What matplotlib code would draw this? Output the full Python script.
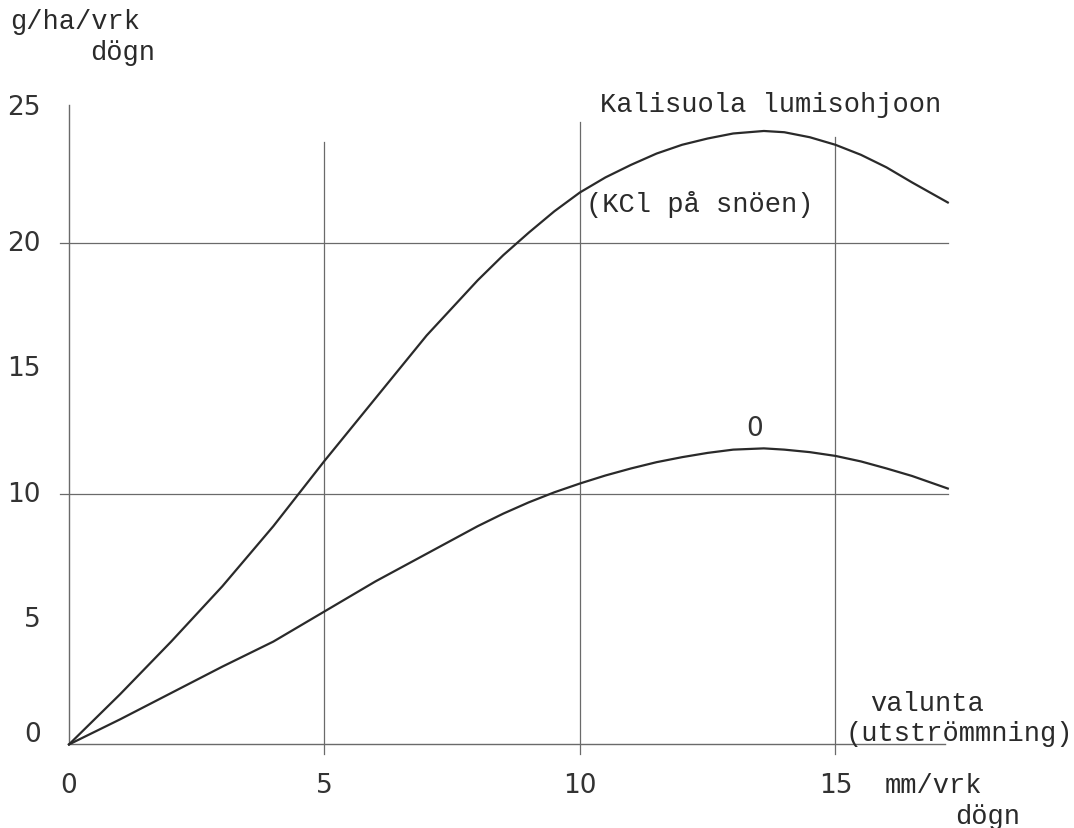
import numpy as np
import matplotlib
matplotlib.use("Agg")
import matplotlib.pyplot as plt

# runoff mm/day
x_vals = [0, 1, 2, 3, 4, 5, 6, 7, 8, 8.5, 9, 9.5, 10, 10.5, 11, 11.5, 12, 12.5,
          13, 13.6, 14, 14.5, 15, 15.5, 16, 16.5, 17.2]
# leaching g/ha/day, KCl on snow
kcl = [0, 2.0, 4.1, 6.3, 8.7, 11.3, 13.8, 16.3, 18.5, 19.5, 20.4, 21.25, 22.0, 22.6,
       23.1, 23.55, 23.9, 24.15, 24.35, 24.45, 24.4, 24.2, 23.9, 23.5, 23.0, 22.4, 21.6]
# leaching, control (0)
ctrl = [0, 1.0, 2.05, 3.1, 4.1, 5.3, 6.5, 7.6, 8.7, 9.2, 9.65, 10.05, 10.4, 10.72,
        11.0, 11.25, 11.45, 11.62, 11.75, 11.8, 11.75, 11.65, 11.5, 11.28, 11.0, 10.7, 10.2]

xticks = [0, 5, 10, 15]
yticks = [0, 5, 10, 15, 20, 25]

mono = "Liberation Mono"
ink = "#2a2a2a"
grid_c = "#6a6a6a"

fig = plt.figure(figsize=(10.74, 8.29), dpi=100)
ax = fig.add_axes([0, 0, 1, 1])
ax.set_xlim(-1.35, 19.67)
ax.set_ylim(-3.33, 29.71)
ax.axis("off")

# axes and grid
ax.plot([0, 0], [0, 25.5], color=grid_c, lw=1.0)
ax.plot([0, 17.15], [0, 0], color=grid_c, lw=1.0)
for xv, top in zip(xticks[1:], [24.0, 24.8, 24.2]):
    ax.plot([xv, xv], [-0.4, top], color=grid_c, lw=0.9)
for yv in [10, 20]:
    ax.plot([-0.18, 17.2], [yv, yv], color=grid_c, lw=0.9)

ax.plot(x_vals, kcl, color=ink, lw=1.6, solid_joinstyle="round")
ax.plot(x_vals, ctrl, color=ink, lw=1.6, solid_joinstyle="round")

# tick labels
for yv in yticks:
    ypos = yv + (0.4 if yv in (0, 25) else 0)
    ax.text(-0.55, ypos, str(yv), ha="right", va="center", fontsize=19,
            color="#333333", family="DejaVu Sans")
for xv in xticks:
    ax.text(xv, -1.6, str(xv), ha="center", va="center", fontsize=19,
            color="#333333", family="DejaVu Sans")

# labels
kw = dict(family=mono, fontsize=19.5, color=ink, va="center", ha="left")
ax.text(-1.15, 28.84, "g/ha/vrk", **kw)
ax.text(0.41, 27.6, "dögn", **kw)
ax.text(15.97, -1.6, "mm/vrk", **kw)
ax.text(17.34, -2.84, "dögn", **kw)
ax.text(15.68, 1.66, "valunta", **kw)
ax.text(15.2, 0.47, "(utströmmning)", **kw)
ax.text(10.39, 25.54, "Kalisuola lumisohjoon", **kw)
ax.text(10.12, 21.56, "(KCl på snöen)", **kw)
ax.text(13.42, 12.6, "0", ha="center", va="center", fontsize=19,
        color="#333333", family="DejaVu Sans")

fig.savefig("out.png", dpi=100, facecolor="white")
